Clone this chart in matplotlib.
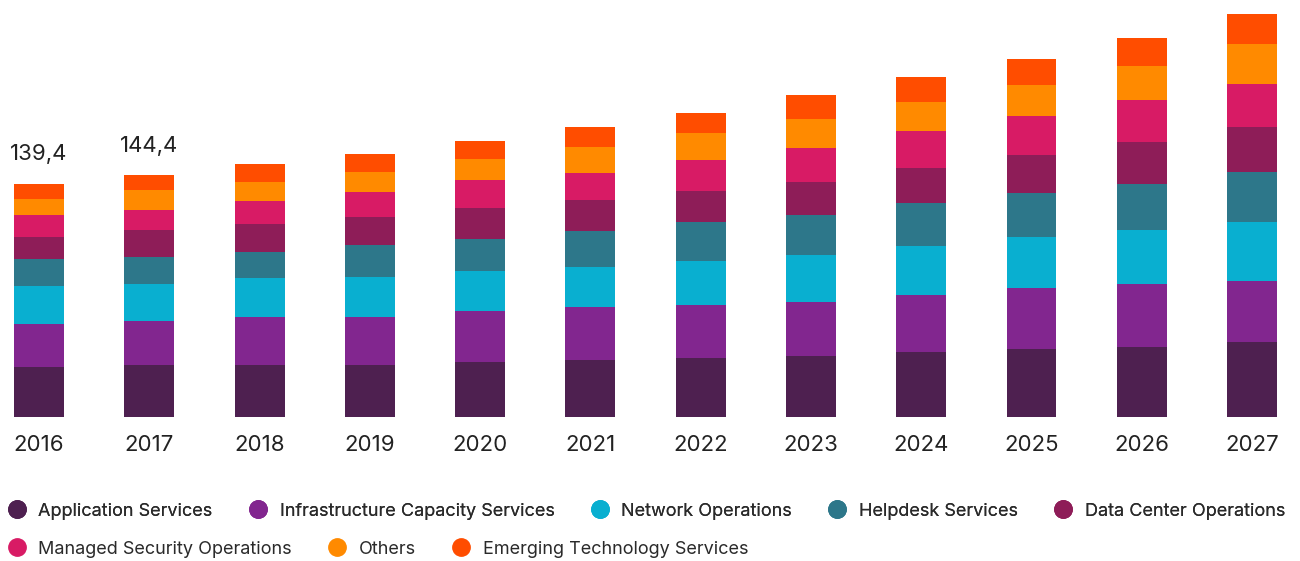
import matplotlib
matplotlib.use("Agg")
import matplotlib.pyplot as plt
import numpy as np
from matplotlib.lines import Line2D

plt.rcParams['font.family'] = ['Inter', 'DejaVu Sans']

years = ['2016', '2017', '2018', '2019', '2020', '2021', '2022', '2023', '2024', '2025', '2026', '2027']

# segment values (bottom to top)
application = [29.9, 31.1, 31.1, 31.1, 32.7, 34.1, 35.1, 36.7, 38.7, 40.6, 41.8, 45.0]
infrastructure = [25.5, 26.3, 28.5, 28.9, 30.7, 31.5, 31.9, 32.3, 34.2, 36.3, 37.9, 36.3]
network = [22.9, 21.9, 23.3, 23.9, 23.9, 24.3, 26.5, 27.9, 29.3, 30.8, 31.9, 35.1]
helpdesk = [16.2, 16.5, 15.5, 18.9, 19.1, 21.3, 23.3, 23.9, 25.5, 26.5, 27.5, 29.9]
data_center = [13.0, 16.0, 16.7, 16.9, 18.3, 18.5, 18.5, 19.5, 20.9, 22.3, 25.3, 27.3]
security = [13.3, 12.1, 14.1, 14.9, 16.9, 16.3, 18.3, 20.7, 22.3, 23.3, 25.3, 25.3]
others = [9.6, 11.6, 11.4, 12.0, 12.6, 15.2, 16.3, 17.2, 17.5, 18.9, 20.3, 23.9]
emerging = [9.0, 9.1, 10.4, 10.6, 10.9, 12.0, 12.0, 14.3, 14.9, 15.5, 16.5, 17.9]

labels = ['Application Services', 'Infrastructure Capacity Services', 'Network Operations',
          'Helpdesk Services', 'Data Center Operations', 'Managed Security Operations',
          'Others', 'Emerging Technology Services']
colors = ['#4e2050', '#82268f', '#09afd0', '#2d778a', '#8e1d58', '#d81b65', '#ff8a00', '#ff4d00']

totals_shown = {0: '139,4', 1: '144,4'}

series = [application, infrastructure, network, helpdesk, data_center, security, others, emerging]

fig = plt.figure(figsize=(13, 5.61), dpi=100)
ax = fig.add_axes([0, 0.2567, 1, 0.7433])

x = np.arange(len(years))
bottom = np.zeros(len(years))
for vals, lab, col in zip(series, labels, colors):
    ax.bar(x, vals, width=0.453, bottom=bottom, color=col, label=lab, edgecolor='none')
    bottom += np.array(vals)

for i, txt in totals_shown.items():
    ax.annotate(txt, (x[i], bottom[i]), xytext=(0, 14), textcoords='offset points',
                ha='center', va='bottom', fontsize=16, color='#222222')

ax.set_xlim(-0.354, 11.435)
ax.set_ylim(0, 249.3)
ax.set_xticks(x)
ax.set_xticklabels(years, fontsize=16, color='#222222')
ax.tick_params(axis='x', length=0, pad=13)
ax.set_yticks([])
for s in ax.spines.values():
    s.set_visible(False)

def handles(idx):
    return [Line2D([], [], marker='o', linestyle='none', markersize=12.5,
                   markerfacecolor=colors[i], markeredgecolor=colors[i]) for i in idx]

leg_kw = dict(loc='center left', frameon=False, fontsize=13, handletextpad=0.7,
              columnspacing=2.0, handlelength=1.0, borderpad=0, borderaxespad=0,
              labelcolor='#2a2a2a')
leg1 = fig.legend(handles(range(5)), labels[:5], bbox_to_anchor=(0.006, 0.089), ncol=5, **leg_kw)
fig.add_artist(leg1)
fig.legend(handles(range(5, 8)), labels[5:], bbox_to_anchor=(0.006, 0.021), ncol=3, **leg_kw)

fig.savefig('out.png', dpi=100)
